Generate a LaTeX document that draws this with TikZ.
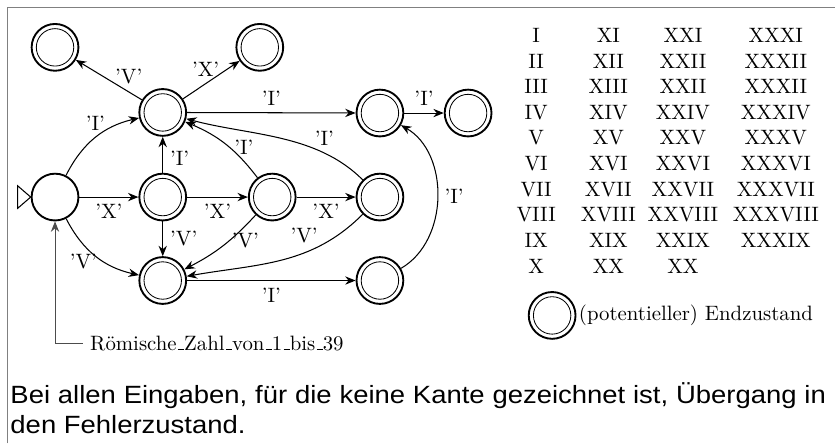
\documentclass[tikz,border=0pt]{standalone}
\usepackage{fontspec}
\newfontfamily\noteFont[FakeStretch=1.1]{Liberation Sans}
\newcommand{\unterstrich}{\kern.06em\vbox{\hrule width.3em}}
\usetikzlibrary{arrows.meta, positioning}

\begin{document}
\begin{tikzpicture}[
    >={Stealth[length=5pt, width=4pt]},
    zustand/.style={draw, circle, line width=0.9pt, minimum size=22.5pt, inner sep=0pt},
    endzustand/.style={zustand, path picture={\draw[line width=0.4pt] (path picture bounding box.center) circle (9pt);}},
    uebergang/.style={->, line width=0.5pt},
    numeral/.style={inner sep=0pt}
]
    \useasboundingbox (0,0) rectangle (14.11,7.49);

    % Frame (only top and left edge visible)
    \draw[gray, line width=0.5pt] (0.12,0) -- (0.12,7.37) -- (14.11,7.37);

    % States
    \node[zustand]    (qStart) at (0.93,4.16) {};
    \node[endzustand] (qI)     at (2.75,5.59) {};
    \node[endzustand] (qIV)    at (0.93,6.69) {};
    \node[endzustand] (qIX)    at (4.39,6.69) {};
    \node[endzustand] (qX)     at (2.75,4.16) {};
    \node[endzustand] (qXX)    at (4.60,4.16) {};
    \node[endzustand] (qXXX)   at (6.42,4.16) {};
    \node[endzustand] (qV)     at (2.75,2.75) {};
    \node[endzustand] (qVI)    at (6.42,2.75) {};
    \node[endzustand] (qII)    at (6.42,5.58) {};
    \node[endzustand] (qIII)   at (7.91,5.58) {};

    % Start marker
    \draw[line width=0.5pt] (qStart.west) -- ++(-0.22,0.19) -- ++(0,-0.38) -- cycle;

    % Transitions
    \draw[uebergang] (qStart) to[bend left=25] node[above] {'I'} (qI);
    \draw[uebergang] (qStart) -- node[below] {'X'} (qX);
    \draw[uebergang] (qStart) to[bend right=25] node[below left=-6pt] {'V'} (qV);
    \draw[uebergang] (qX) -- node[right, pos=0.4] {'I'} (qI);
    \draw[uebergang] (qX) -- node[right] {'V'} (qV);
    \draw[uebergang] (qX) -- node[below] {'X'} (qXX);
    \draw[uebergang] (qXX) to[bend right=15] node[right=-1pt, pos=0.45] {'I'} (qI);
    \draw[uebergang] (qXX) to[bend left=10] node[below, pos=0.15] {'V'} (qV);
    \draw[uebergang] (qXX) -- node[below] {'X'} (qXXX);
    \draw[uebergang] (qXXX) to[out=135, in=-15, looseness=0.9] node[above, pos=0.25] {'I'} (qI);
    \draw[uebergang] (qXXX) to[out=225, in=10] node[above=1pt, pos=0.37] {'V'} (qV);
    \draw[uebergang] (qI) -- node[above, pos=0.2] {'V'} (qIV);
    \draw[uebergang] (qI) -- node[above, pos=0.4] {'X'} (qIX);
    \draw[uebergang] (qI) -- node[above] {'I'} (qII);
    \draw[uebergang] (qII) -- node[above] {'I'} (qIII);
    \draw[uebergang] (qV) -- node[below] {'I'} (qVI);
    \draw[uebergang] (qVI) to[bend right=60] node[right] {'I'} (qII);

    % Automaton name
    \coordinate (ecke) at (0.93,1.69);
    \node[anchor=west] (name) at (1.40,1.69)
        {Römische\unterstrich Zahl\unterstrich von\unterstrich 1\unterstrich bis\unterstrich 39};
    \draw[->, black!70, line width=0.5pt] (name.west) -- (ecke) -- (qStart);

    % Table of roman numerals
    \foreach \x/\liste in {9.06/{I,II,III,IV,V,VI,VII,VIII,IX,X},
                           10.28/{XI,XII,XIII,XIV,XV,XVI,XVII,XVIII,XIX,XX},
                           11.54/{XXI,XXII,XXII,XXIV,XXV,XXVI,XXVII,XXVIII,XXIX,XX},
                           13.11/{XXXI,XXXII,XXXII,XXXIV,XXXV,XXXVI,XXXVII,XXXVIII,XXXIX}}
        \foreach \zahl [count=\r from 0] in \liste
            \node[numeral] at (\x, 6.895-0.434*\r) {\zahl};

    % Legend
    \node[endzustand] (legende) at (9.33,2.16) {};
    \node[right=0pt of legende, inner sep=1pt] (legendeText) {(potentieller) Endzustand};

    % Note
    \node[anchor=base west, inner sep=0pt, text width=13.78cm, align=justify,
          font=\noteFont\fontsize{12}{14.4}\selectfont] (hinweis) at (0.17,0.676)
        {Bei allen Eingaben, für die keine Kante gezeichnet ist, Übergang in\linebreak
         den Fehlerzustand.};
\end{tikzpicture}
\end{document}
